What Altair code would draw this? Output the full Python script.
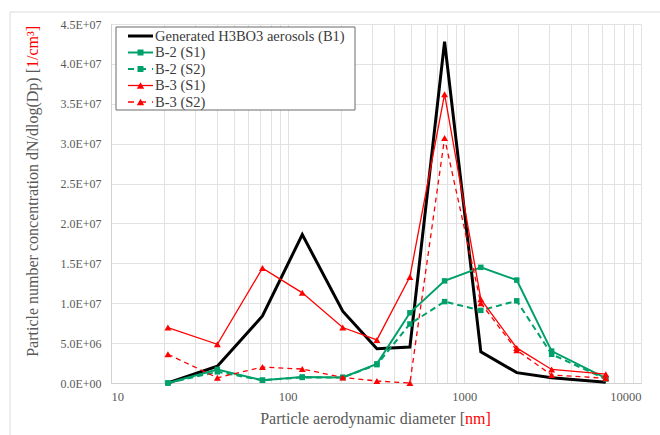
import altair as alt
import pandas as pd

# Aerodynamic diameter of each impactor stage [nm]
DIAMETER_NM = [21, 40, 72, 121, 205, 320, 492, 773, 1240, 1980, 3120, 6320]

SERIES = [
    "Generated H3BO3 aerosols (B1)",
    "B-2 (S1)",
    "B-2 (S2)",
    "B-3 (S1)",
    "B-3 (S2)",
]

# Number concentration dN/dlog(Dp) [1/cm3]
B1 = [0.0, 2.1e6, 8.4e6, 1.86e7, 9.0e6, 4.3e6, 4.5e6, 4.28e7, 3.9e6, 1.3e6, 6.5e5, 1.0e5]
B2_S1 = [0.0, 1.7e6, 3.5e5, 7.5e5, 7.0e5, 2.4e6, 8.8e6, 1.28e7, 1.45e7, 1.29e7, 4.0e6, 6.0e5]
B2_S2 = [0.0, 1.4e6, 3.5e5, 7.0e5, 7.0e5, 2.3e6, 7.4e6, 1.02e7, 9.1e6, 1.03e7, 3.6e6, 5.0e5]
B3_S1 = [6.95e6, 4.85e6, 1.44e7, 1.13e7, 6.95e6, 5.4e6, 1.33e7, 3.62e7, 1.05e7, 4.4e6, 1.7e6, 1.1e6]
B3_S2 = [3.6e6, 6.5e5, 2.0e6, 1.75e6, 7.0e5, 2.5e5, 0.0, 3.07e7, 1.0e7, 4.1e6, 1.0e6, 6.0e5]

GREEN, RED = "#00a06a", "#ff0000"
COLORS = ["#000000", GREEN, GREEN, RED, RED]

X_TICKS = [m * 10 ** e for e in range(1, 4) for m in range(1, 10)] + [10000]
Y_TICKS = [i * 5e6 for i in range(10)]

X_TITLE = "Particle aerodynamic diameter ["
X_UNIT = "nm]"
Y_TITLE = "Particle number concentration dN/dlog(Dp) ["
Y_UNIT = "1/cm\u00b3]"

FONT = "Liberation Serif"
TICK_COLOR = "#595959"
W, H = 530, 359

rows = []
for name, vals in zip(SERIES, [B1, B2_S1, B2_S2, B3_S1, B3_S2]):
    for d, v in zip(DIAMETER_NM, vals):
        rows.append({"diameter": d, "conc": v, "series": name})
df = pd.DataFrame(rows)

# Per-series line and marker styles
STYLE = {
    SERIES[0]: dict(color=COLORS[0], strokeWidth=3),
    SERIES[1]: dict(color=COLORS[1], strokeWidth=2),
    SERIES[2]: dict(color=COLORS[2], strokeWidth=2, strokeDash=[6, 4]),
    SERIES[3]: dict(color=COLORS[3], strokeWidth=1.3),
    SERIES[4]: dict(color=COLORS[4], strokeWidth=1.3, strokeDash=[5, 4]),
}
MARKER = {
    SERIES[1]: dict(shape="square", size=30),
    SERIES[2]: dict(shape="square", size=30),
    SERIES[3]: dict(shape="triangle-up", size=48),
    SERIES[4]: dict(shape="triangle-up", size=48),
}
LEGEND_DASH = {SERIES[2]: [6, 6], SERIES[4]: [6, 6]}

x_enc = alt.X(
    "diameter:Q",
    scale=alt.Scale(type="log", domain=[10, 10000], nice=False),
    axis=alt.Axis(
        values=X_TICKS,
        format="d",
        labelExpr="indexof([10, 100, 1000, 10000], datum.value) >= 0 ? datum.label : ''",
        labelOverlap=False,
        labelFont=FONT,
        labelFontSize=12.5,
        labelColor=TICK_COLOR,
        title=None,
        ticks=False,
        labelPadding=7,
        gridColor="#e2e2e2",
        domainColor="#d0d0d0",
    ),
)
y_enc = alt.Y(
    "conc:Q",
    scale=alt.Scale(domain=[0, 4.5e7], nice=False, zero=True),
    axis=alt.Axis(
        values=Y_TICKS,
        labelExpr=(
            "datum.value == 0 ? '0.0E+00' : "
            "format(datum.value / pow(10, floor(log(datum.value) / LN10 + 1e-9)), '.1f')"
            " + 'E+' + (floor(log(datum.value) / LN10 + 1e-9) < 10 ? '0' : '')"
            " + floor(log(datum.value) / LN10 + 1e-9)"
        ),
        labelFont=FONT,
        labelFontSize=12,
        labelColor=TICK_COLOR,
        title=None,
        ticks=False,
        labelPadding=10,
        gridColor="#e2e2e2",
        domainColor="#d0d0d0",
    ),
)

base = alt.Chart(df)
layers = []

# Light frame around the whole figure
frame = alt.Chart(pd.DataFrame({"k": [0]})).mark_rect(
    fill="transparent", stroke="#dcdcdc", strokeWidth=1
).encode(x=alt.value(-101), x2=alt.value(W + 60), y=alt.value(-12), y2=alt.value(H + 80))
layers.append(frame)

# Data series: line plus markers
for name in SERIES:
    sub = base.transform_filter(alt.datum.series == name)
    layers.append(sub.mark_line(**STYLE[name]).encode(x=x_enc, y=y_enc, order="diameter:Q"))
    if name in MARKER:
        layers.append(
            sub.mark_point(
                filled=True, opacity=1, color=STYLE[name]["color"], **MARKER[name]
            ).encode(x=x_enc, y=y_enc)
        )

# Legend box in the upper-left corner of the plot
LEG_X0, LEG_Y0, LEG_W, LEG_H = 5, 3, 239, 83
ROW0, ROW_STEP = 9, 16.5
layers.append(
    alt.Chart(pd.DataFrame({"k": [0]})).mark_rect(
        fill="#ffffff", stroke="#6b6b6b", strokeWidth=1
    ).encode(
        x=alt.value(LEG_X0), x2=alt.value(LEG_X0 + LEG_W),
        y=alt.value(LEG_Y0), y2=alt.value(LEG_Y0 + LEG_H),
    )
)
for i, name in enumerate(SERIES):
    ly = LEG_Y0 + ROW0 + i * ROW_STEP
    entry = alt.Chart(pd.DataFrame({"series": [name]}))
    line_style = dict(color=STYLE[name]["color"], strokeWidth=STYLE[name]["strokeWidth"])
    if name in LEGEND_DASH:
        line_style["strokeDash"] = LEGEND_DASH[name]
    layers.append(
        entry.mark_rule(**line_style).encode(
            x=alt.value(LEG_X0 + 12), x2=alt.value(LEG_X0 + 37), y=alt.value(ly)
        )
    )
    if name in MARKER:
        m = MARKER[name]
        layers.append(
            entry.mark_point(
                filled=True, opacity=1, color=STYLE[name]["color"],
                shape=m["shape"], size=m["size"] + 6,
            ).encode(x=alt.value(LEG_X0 + 24.5), y=alt.value(ly))
        )
    layers.append(
        entry.mark_text(
            font=FONT, fontSize=14.5, color="#3a3a3a", align="left", baseline="middle"
        ).encode(text="series:N", x=alt.value(LEG_X0 + 39), y=alt.value(ly + 0.5))
    )

# Axis titles with the unit written in red
title_df = pd.DataFrame({"main": [X_TITLE], "unit": [X_UNIT]})
x_junction = W / 2 + 89
layers.append(
    alt.Chart(title_df).mark_text(
        font=FONT, fontSize=16, color=TICK_COLOR, align="right", baseline="middle"
    ).encode(text="main:N", x=alt.value(x_junction), y=alt.value(H + 36))
)
layers.append(
    alt.Chart(title_df).mark_text(
        font=FONT, fontSize=16, color=RED, align="left", baseline="middle"
    ).encode(text="unit:N", x=alt.value(x_junction), y=alt.value(H + 36))
)

ytitle_df = pd.DataFrame({"main": [Y_TITLE], "unit": [Y_UNIT]})
y_junction = 44
layers.append(
    alt.Chart(ytitle_df).mark_text(
        font=FONT, fontSize=16, color=TICK_COLOR, align="right", baseline="middle", angle=270
    ).encode(text="main:N", x=alt.value(-78), y=alt.value(y_junction))
)
layers.append(
    alt.Chart(ytitle_df).mark_text(
        font=FONT, fontSize=16, color=RED, align="left", baseline="middle", angle=270
    ).encode(text="unit:N", x=alt.value(-78), y=alt.value(y_junction))
)

chart = (
    alt.layer(*layers)
    .properties(
        width=W,
        height=H,
        autosize=alt.AutoSizeParams(type="none"),
        padding={"left": 111, "top": 24, "right": 19, "bottom": 52},
        background="#ffffff",
    )
    .configure_view(stroke=None)
    .configure_axis(gridWidth=1)
)

chart.save("out.html", embed_options={"renderer": "svg", "actions": False})
